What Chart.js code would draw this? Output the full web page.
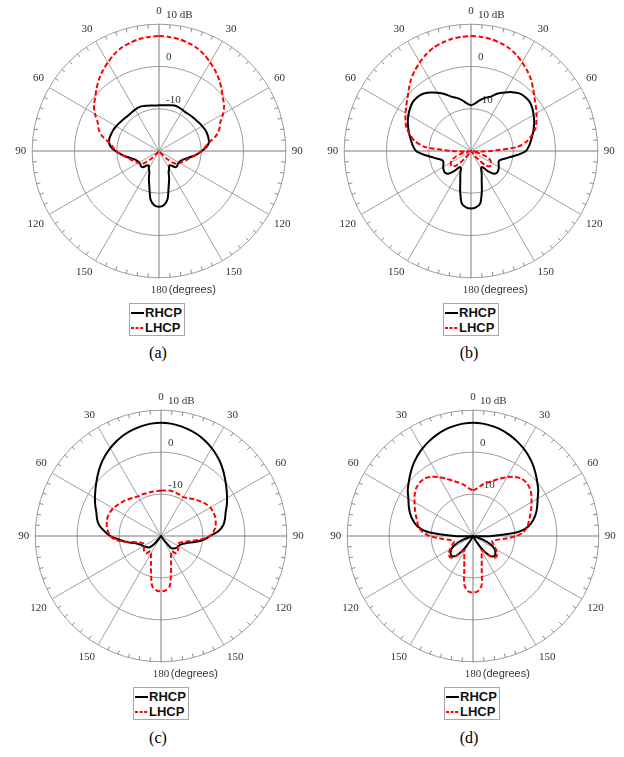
<!DOCTYPE html>
<html><head><meta charset="utf-8">
<script src="https://cdn.jsdelivr.net/npm/chart.js@4.4.1/dist/chart.umd.min.js"></script>
<style>
html,body{margin:0;padding:0;background:#fff;}
#root{position:relative;width:624px;height:757px;overflow:hidden;background:#fff;}
#root canvas{position:absolute;}
.legend{position:absolute;box-sizing:border-box;width:56px;height:33px;border:1px solid #a8a8a8;padding:1px 1px 1px 1px;font:bold 13px "Liberation Sans",Arial,sans-serif;color:#111;background:#fff;}
.legend .row{height:15px;line-height:15px;white-space:nowrap;display:flex;align-items:center;}
.legend svg{width:13px;height:10px;margin-right:1px;flex:none;}
.caption{position:absolute;font:16px "Liberation Serif","Times New Roman",serif;color:#000;transform:translate(-50%,-50%);white-space:nowrap;}
</style></head><body><div id="root"></div>
<script>
// ---------- data ----------
const angles = [0,5,10,15,20,25,30,35,40,45,50,55,60,65,70,75,80,85,
  90,95,100,105,110,115,120,125,130,135,140,145,150,155,160,165,170,175,
  180,185,190,195,200,205,210,215,220,225,230,235,240,245,250,255,260,265,
  270,275,280,285,290,295,300,305,310,315,320,325,330,335,340,345,350,355];
const angleTickLabels = ['0','30','60','90','120','150','180','150','120','90','60','30'];
const rTickValues = [-20, -10, 0, 10];
const rTickLabels = ['', '-10', '0', '10 dB'];
const axisUnit = '(degrees)';
const seriesNames = ['RHCP', 'LHCP'];
const panelNames = ['(a)', '(b)', '(c)', '(d)'];

const rhcpA = [-9.2,-9.15,-9.0,-8.8,-8.6,-8.7,-8.8,-8.9,-8.8,-8.7,-8.6,-8.4,-8.2,-8.0,-7.9,-7.9,-8.0,-8.7,
  -9.9,-11.0,-12.2,-13.3,-14.0,-14.4,-14.6,-14.6,-14.4,-14.6,-15.5,-15.8,-15.2,-14.6,-13.0,-11.2,-8.4,-7.1,
  -6.8,-7.1,-8.4,-11.2,-13.0,-14.6,-15.2,-15.8,-15.5,-14.6,-14.4,-14.6,-14.6,-14.4,-14.0,-13.3,-12.2,-11.0,
  -9.7,-8.5,-8.0,-7.9,-8.0,-8.1,-8.3,-8.5,-8.7,-8.8,-8.9,-8.8,-8.7,-8.6,-8.7,-8.9,-9.05,-9.2];
const lhcpA = [7.2,7.1,6.9,6.5,6.0,5.2,4.2,3.2,2.1,0.9,-0.3,-1.2,-2.5,-4.0,-4.8,-6.0,-7.9,-9.0,
  -9.8,-11.0,-12.0,-12.8,-13.4,-13.9,-14.3,-14.7,-15.6,-17.5,-19.5,-20,-20,-20,-20,-20,-20,-20,
  -20,-20,-20,-20,-20,-20,-20,-20,-19.5,-17.5,-15.6,-14.7,-14.3,-13.9,-13.4,-12.8,-12.0,-11.0,
  -9.8,-9.0,-7.9,-6.0,-4.8,-4.0,-2.5,-1.2,-0.3,0.9,2.1,3.2,4.2,5.2,6.0,6.5,6.9,7.1];

const rhcpB = [-9.2,-8.7,-7.8,-7.0,-6.3,-5.0,-4.0,-3.0,-2.2,-1.9,-1.9,-2.3,-2.9,-3.5,-4.2,-4.9,-5.6,-6.2,
  -7.0,-9.0,-11.0,-12.4,-13.0,-12.8,-12.4,-12.1,-12.0,-12.4,-13.8,-15.4,-15.2,-14.0,-12.6,-10.1,-7.4,-6.6,
  -6.4,-6.6,-7.4,-10.1,-12.6,-14.0,-15.2,-15.4,-13.8,-12.4,-12.0,-12.1,-12.4,-12.8,-13.0,-12.4,-11.0,-9.0,
  -7.0,-6.2,-5.6,-4.9,-4.2,-3.5,-2.9,-2.4,-2.0,-2.0,-2.3,-3.1,-4.1,-5.1,-6.3,-7.0,-7.8,-8.7];
const lhcpB = [7.2,7.1,6.9,6.5,6.0,5.2,4.2,3.2,2.1,0.8,-0.4,-1.3,-2.1,-2.9,-3.7,-5.0,-6.5,-9.0,
  -15.5,-18.5,-19.5,-18.0,-16.2,-15.0,-14.5,-14.2,-14.3,-15.3,-17.5,-19.5,-20,-20,-20,-20,-20,-20,
  -20,-20,-20,-20,-20,-20,-20,-19.5,-17.5,-15.3,-14.3,-14.2,-14.5,-15.0,-16.2,-18.0,-19.5,-18.5,
  -15.5,-9.0,-6.5,-5.0,-3.7,-2.9,-2.1,-1.3,-0.4,0.8,2.1,3.2,4.2,5.2,6.0,6.5,6.9,7.1];

const rhcpC = [7.0,6.9,6.6,6.2,5.7,5.0,4.2,3.3,2.3,1.2,0.1,-0.9,-1.8,-2.7,-3.6,-4.2,-4.9,-6.2,
  -8.3,-9.8,-11.8,-13.6,-14.5,-15.0,-15.2,-15.3,-15.5,-15.8,-16.3,-19.0,-20,-20,-20,-20,-20,-20,
  -20,-20,-20,-20,-20,-20,-20,-19.5,-17.5,-16.2,-15.8,-15.5,-15.2,-14.9,-14.3,-13.5,-11.6,-10.0,
  -7.9,-6.4,-5.0,-4.2,-3.6,-2.7,-1.8,-0.9,0.1,1.2,2.3,3.3,4.2,5.0,5.7,6.2,6.6,6.9];
const lhcpC = [-9.2,-9.1,-9.0,-9.0,-9.1,-9.2,-9.3,-9.0,-8.4,-7.9,-7.3,-6.8,-6.4,-6.3,-6.3,-6.5,-6.8,-7.4,
  -8.3,-10.5,-13.0,-14.5,-15.3,-15.5,-15.3,-15.0,-14.7,-14.5,-14.6,-15.6,-15.2,-14.3,-13.0,-10.8,-7.9,-7.0,
  -6.8,-7.0,-7.9,-10.8,-13.0,-14.3,-15.2,-15.6,-14.6,-14.5,-14.7,-15.0,-15.3,-15.5,-15.2,-14.2,-12.0,-9.2,
  -7.9,-7.3,-6.9,-6.6,-6.5,-6.6,-6.8,-7.2,-7.6,-8.0,-8.4,-8.8,-9.1,-9.1,-9.2,-9.2,-9.2,-9.2];

const rhcpD = [7.0,6.9,6.6,6.2,5.6,4.9,4.1,3.2,2.2,1.1,0.0,-1.0,-2.2,-3.1,-4.0,-5.1,-6.5,-9.2,
  -15.5,-19.0,-20,-19.5,-17.5,-15.5,-14.2,-13.5,-13.1,-13.1,-14.0,-16.0,-18.5,-20,-20,-20,-20,-20,
  -20,-20,-20,-20,-20,-20,-18.5,-16.0,-14.0,-13.1,-13.1,-13.5,-14.2,-15.5,-17.5,-19.5,-20,-19.0,
  -15.5,-9.2,-6.5,-5.1,-4.0,-3.1,-2.2,-1.0,0.0,1.1,2.2,3.2,4.1,4.9,5.6,6.2,6.6,6.9];
const lhcpD = [-9.1,-8.6,-7.6,-6.8,-6.0,-4.9,-3.8,-2.8,-2.1,-2.0,-2.3,-3.0,-3.9,-4.7,-5.5,-6.2,-6.8,-7.8,
  -9.6,-12.5,-14.5,-15.3,-15.0,-14.4,-13.7,-13.0,-12.6,-12.7,-13.8,-15.5,-16.0,-15.1,-13.9,-12.0,-8.1,-6.8,
  -6.5,-6.8,-8.1,-12.0,-13.9,-15.1,-16.0,-15.5,-13.8,-12.7,-12.6,-13.0,-13.7,-14.4,-15.0,-15.3,-14.5,-12.5,
  -9.6,-7.8,-6.8,-6.2,-5.5,-4.7,-3.9,-3.0,-2.3,-2.0,-2.1,-2.8,-3.8,-4.9,-6.0,-6.8,-7.6,-8.6];

// ---------- layout (positions/sizes) ----------
const panels = [
  {name: panelNames[0], rhcp: rhcpA, lhcp: lhcpA, box:[0,0,318,305],   pad:{left:13,top:5,right:12,bottom:7}, legend:[129,303], caption:[158,353]},
  {name: panelNames[1], rhcp: rhcpB, lhcp: lhcpB, box:[312,0,312,305], pad:{left:13,top:5,right:6,bottom:7},  legend:[443,303], caption:[469,353]},
  {name: panelNames[2], rhcp: rhcpC, lhcp: lhcpC, box:[0,385,318,305], pad:{left:16,top:6,right:11,bottom:8}, legend:[133,687], caption:[158,738]},
  {name: panelNames[3], rhcp: rhcpD, lhcp: lhcpD, box:[312,385,312,305], pad:{left:16,top:6,right:5,bottom:8}, legend:[444,687], caption:[469,738]}
];

const LABEL_FONT = {family: '"Liberation Serif", "Times New Roman", serif', size: 11};
const LABEL_PAD = 6;

const polarExtras = {
  id: 'polarExtras',
  beforeDatasetsDraw(chart) {
    const s = chart.scales.r, ctx = chart.ctx;
    const n = chart.data.labels.length;
    ctx.save();
    // small tick marks on the outer ring
    ctx.strokeStyle = '#8a8a8a';
    ctx.lineWidth = 1;
    ctx.beginPath();
    for (let i = 0; i < n; i++) {
      if (i % 6 === 0) continue;
      const a = s.getPointPosition(i, s.drawingArea);
      const b = s.getPointPosition(i, s.drawingArea - 4);
      ctx.moveTo(a.x, a.y); ctx.lineTo(b.x, b.y);
    }
    ctx.stroke();
    // radial tick labels
    ctx.font = LABEL_FONT.size + 'px ' + LABEL_FONT.family;
    ctx.fillStyle = '#333';
    ctx.textAlign = 'left';
    ctx.textBaseline = 'middle';
    s.ticks.forEach(t => {
      const k = rTickValues.indexOf(t.value);
      const lab = k >= 0 ? rTickLabels[k] : '';
      if (!lab) return;
      const d = s.getDistanceFromCenterForValue(t.value);
      ctx.fillText(lab, s.xCenter + 7, s.yCenter - d - 9);
    });
    // unit after the 180 label
    const idx = n / 2;
    const p = s.getPointPosition(idx, s.drawingArea + LABEL_PAD);
    const w180 = ctx.measureText(angleTickLabels[6]).width;
    ctx.font = '11px "Liberation Sans", Arial, sans-serif';
    ctx.fillText(axisUnit, p.x + w180 / 2 + 1.5, p.y + LABEL_FONT.size * 1.2 / 2);
    ctx.restore();
  }
};

const root = document.getElementById('root');

panels.forEach(pn => {
  const cv = document.createElement('canvas');
  const [x, y, w, h] = pn.box;
  cv.width = w; cv.height = h;
  cv.style.left = x + 'px'; cv.style.top = y + 'px';
  cv.style.width = w + 'px'; cv.style.height = h + 'px';
  root.appendChild(cv);

  const chart = new Chart(cv, {
    type: 'radar',
    data: {
      labels: angles,
      datasets: [
        {label: seriesNames[0], data: pn.rhcp, borderColor: '#000000', borderWidth: 2, pointRadius: 0, pointHoverRadius: 0, fill: false, tension: 0.25, order: 1},
        {label: seriesNames[1], data: pn.lhcp, borderColor: '#ff0000', borderWidth: 2, borderDash: [5, 2.5], pointRadius: 0, pointHoverRadius: 0, fill: false, tension: 0.25, order: 0}
      ]
    },
    options: {
      responsive: false,
      animation: false,
      devicePixelRatio: 1,
      layout: {padding: pn.pad},
      plugins: {legend: {display: false}, tooltip: {enabled: false}, title: {display: false}},
      elements: {line: {borderCapStyle: 'butt', borderJoinStyle: 'round'}},
      scales: {
        r: {
          min: -20, max: 10,
          ticks: {display: false, stepSize: 10, callback: v => {
            const k = rTickValues.indexOf(v); return k >= 0 ? rTickLabels[k] : ''; }},
          grid: {circular: true, color: '#9c9c9c', lineWidth: 1},
          angleLines: {
            display: true,
            color: c => (c.index % 18 === 0 ? '#7a7a7a' : '#a0a0a0'),
            lineWidth: c => (c.index % 6 === 0 ? 1 : 0)
          },
          pointLabels: {
            display: true,
            padding: LABEL_PAD,
            color: '#333',
            font: LABEL_FONT,
            callback: (label, i) => (i % 6 === 0 ? angleTickLabels[i / 6] : '')
          }
        }
      }
    },
    plugins: [polarExtras]
  });

  // legend built from the chart's datasets
  const lg = document.createElement('div');
  lg.className = 'legend';
  lg.style.left = pn.legend[0] + 'px';
  lg.style.top = pn.legend[1] + 'px';
  chart.data.datasets.forEach(ds => {
    const row = document.createElement('div');
    row.className = 'row';
    const dash = ds.borderDash ? ' stroke-dasharray="3,1.6"' : '';
    row.innerHTML = '<svg viewBox="0 0 13 10"><line x1="0" y1="5" x2="13" y2="5" stroke="' + ds.borderColor +
      '" stroke-width="2"' + dash + '/></svg><span>' + ds.label + '</span>';
    lg.appendChild(row);
  });
  root.appendChild(lg);

  const cap = document.createElement('div');
  cap.className = 'caption';
  cap.textContent = pn.name;
  cap.style.left = pn.caption[0] + 'px';
  cap.style.top = pn.caption[1] + 'px';
  root.appendChild(cap);
});
</script></body></html>
